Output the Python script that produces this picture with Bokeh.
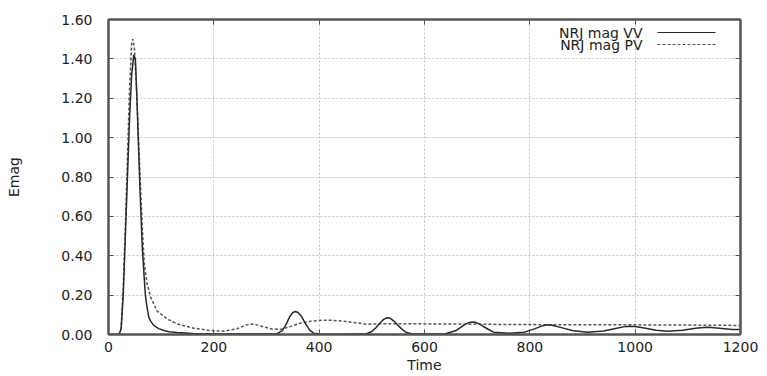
from bokeh.plotting import figure
from bokeh.models import (Range1d, FixedTicker, NumeralTickFormatter, LinearAxis,
                          Label, Arrow, ColumnDataSource, CustomLabelingPolicy)
from bokeh.embed import file_html
from bokeh.resources import INLINE

# ---- data ----
t_vv = [0, 10, 20, 24, 28, 32, 36, 40, 44, 48, 51, 54, 57, 60, 64, 68, 70, 73, 76.5, 80, 86,
        95, 105, 115, 130, 160, 200, 250, 300, 320, 330, 337, 344, 350, 355, 360, 367, 374,
        382, 390, 400, 450, 490, 500, 508, 516, 523, 529, 535, 542, 550, 558, 566, 575, 600,
        640, 660, 668, 676, 684, 690, 696, 703, 711, 720, 731, 760, 790, 810, 825, 833, 842,
        860, 880, 909, 940, 965, 980, 990, 1000, 1020, 1040, 1061, 1090, 1115, 1130, 1137,
        1145, 1165, 1185, 1200]
e_vv = [0, 0, 0, 0.03, 0.2, 0.5, 0.8, 1.1, 1.32, 1.42, 1.40, 1.2, 0.95, 0.72, 0.45, 0.28,
        0.2, 0.14, 0.088, 0.068, 0.046, 0.03, 0.02, 0.014, 0.01, 0.005, 0.003, 0.002, 0.002,
        0.004, 0.02, 0.05, 0.09, 0.112, 0.117, 0.112, 0.09, 0.055, 0.022, 0.006, 0.002,
        0.001, 0.004, 0.015, 0.035, 0.06, 0.078, 0.085, 0.082, 0.068, 0.045, 0.025, 0.01,
        0.004, 0.002, 0.004, 0.02, 0.035, 0.05, 0.06, 0.063, 0.062, 0.055, 0.042, 0.028,
        0.012, 0.006, 0.012, 0.03, 0.045, 0.049, 0.047, 0.035, 0.02, 0.012, 0.018, 0.032,
        0.04, 0.042, 0.041, 0.032, 0.022, 0.017, 0.022, 0.032, 0.036, 0.037, 0.036, 0.031,
        0.026, 0.025]

t_pv = [0, 20, 24, 28, 32, 36, 40, 44, 46, 49, 52, 56, 60, 64, 68, 73, 80, 92, 111, 130,
        162, 194, 219, 244, 258, 269, 280, 295, 310, 327, 345, 365, 385, 405, 425, 445, 470,
        491, 520, 560, 600, 650, 700, 760, 820, 900, 1000, 1100, 1200]
e_pv = [0, 0, 0.03, 0.25, 0.55, 0.9, 1.25, 1.48, 1.50, 1.46, 1.32, 1.06, 0.8, 0.55, 0.36,
        0.26, 0.19, 0.12, 0.08, 0.054, 0.032, 0.02, 0.017, 0.029, 0.045, 0.054, 0.05, 0.038,
        0.028, 0.026, 0.04, 0.058, 0.068, 0.072, 0.072, 0.068, 0.06, 0.052, 0.055, 0.055,
        0.054, 0.053, 0.052, 0.051, 0.05, 0.05, 0.049, 0.048, 0.046]

x_ticks = [0, 200, 400, 600, 800, 1000, 1200]
y_ticks = [0.0, 0.2, 0.4, 0.6, 0.8, 1.0, 1.2, 1.4, 1.6]
series_names = ["NRJ mag VV", "NRJ mag PV"]
x_title = "Time"
y_title = "Emag"

FONT = "DejaVu Sans"
FS = "14px"
TXT = "#222222"
FRAME = "#555555"
VV_COLOR = "#2a2a2a"
PV_COLOR = "#555555"
PV_DASH = "3 2"

p = figure(width=767, height=376, output_backend="svg", toolbar_location=None,
           x_range=Range1d(0, 1200), y_range=Range1d(0, 1.6),
           min_border_left=108, min_border_right=27, min_border_top=19,
           min_border_bottom=42, x_axis_label=x_title, y_axis_label=y_title)

p.background_fill_color = "white"
p.border_fill_color = "white"
p.outline_line_color = FRAME
p.outline_line_width = 2

for ax in (p.xaxis[0], p.yaxis[0]):
    ax.axis_line_color = FRAME
    ax.axis_line_width = 2
    ax.major_tick_in = 5
    ax.major_tick_out = 0
    ax.major_tick_line_color = FRAME
    ax.minor_tick_line_color = None
    ax.major_label_text_font = FONT
    ax.major_label_text_font_size = FS
    ax.major_label_text_color = TXT
    ax.axis_label_text_font = FONT
    ax.axis_label_text_font_size = FS
    ax.axis_label_text_font_style = "normal"
    ax.axis_label_text_color = TXT

p.xaxis[0].ticker = FixedTicker(ticks=x_ticks)
p.yaxis[0].ticker = FixedTicker(ticks=y_ticks)
p.yaxis[0].formatter = NumeralTickFormatter(format="0.00")
p.xaxis[0].major_label_standoff = 7
p.xaxis[0].axis_label_standoff = 2
p.yaxis[0].major_label_standoff = 16
p.yaxis[0].axis_label_standoff = 36

# mirrored ticks on top and right (no labels)
hide_all = CustomLabelingPolicy(code="""
for (const i of indices) indices.unset(i)
return indices
""")
for loc, tk in (("above", x_ticks), ("right", y_ticks)):
    ax = LinearAxis(ticker=FixedTicker(ticks=tk), major_label_policy=hide_all)
    ax.axis_line_color = FRAME
    ax.axis_line_width = 2
    ax.major_tick_in = 5
    ax.major_tick_out = 0
    ax.major_tick_line_color = FRAME
    ax.minor_tick_line_color = None
    ax.major_label_standoff = 0
    p.add_layout(ax, loc)

p.xgrid.ticker = FixedTicker(ticks=x_ticks)
p.ygrid.ticker = FixedTicker(ticks=y_ticks)
for g in (p.xgrid[0], p.ygrid[0]):
    g.grid_line_color = "#c4c4c4"
    g.grid_line_dash = "2 2"
    g.grid_line_width = 1

src_vv = ColumnDataSource(dict(t=t_vv, e=e_vv))
src_pv = ColumnDataSource(dict(t=t_pv, e=e_pv))
p.line("t", "e", source=src_pv, line_color=PV_COLOR, line_width=1.5, line_dash=PV_DASH)
p.line("t", "e", source=src_vv, line_color=VV_COLOR, line_width=1.5)

# legend (gnuplot style: text right-aligned, sample line to its right)
styles = [(VV_COLOR, "solid"), (PV_COLOR, PV_DASH)]
for i, name in enumerate(series_names):
    yy = 302 - 12 * i
    p.add_layout(Label(x=534, y=yy, x_units="screen", y_units="screen",
                       text=name, text_align="right", text_baseline="middle",
                       text_font=FONT, text_font_size=FS, text_color=TXT))
    col, dash = styles[i]
    p.add_layout(Arrow(end=None, x_start=549, y_start=yy, x_end=607, y_end=yy,
                       start_units="screen", end_units="screen",
                       line_color=col, line_width=1.2, line_dash=dash))

open("out.html", "w").write(file_html(p, INLINE))
